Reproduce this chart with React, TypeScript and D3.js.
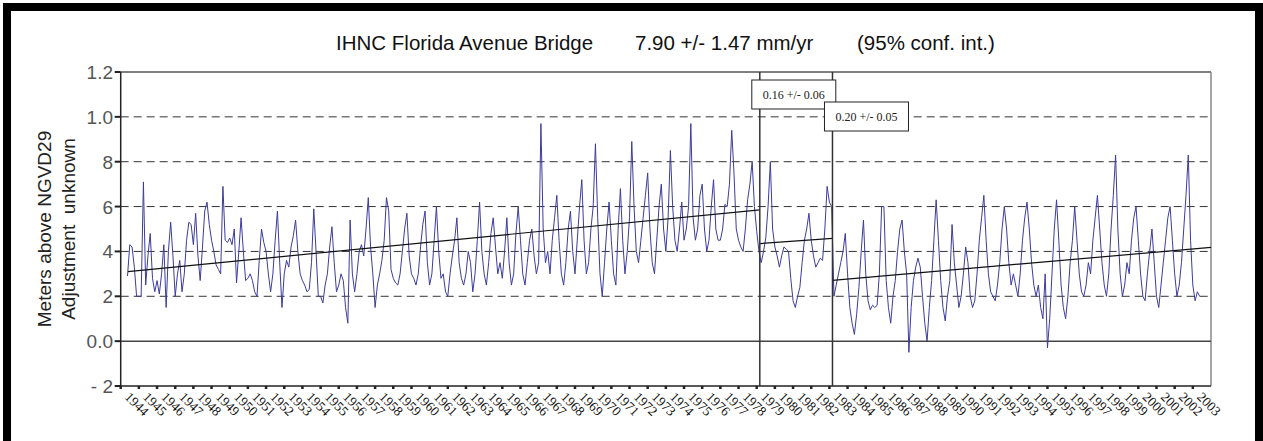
import React from 'react';
import { scaleLinear, line, range } from 'd3';

// chart text
const chartTitle = ['IHNC Florida Avenue Bridge', '7.90 +/- 1.47 mm/yr', '(95% conf. int.)'];
const yTitle = ['Meters above NGVD29', 'Adjustment  unknown'];
const yTickValues = [1.2, 1.0, 0.8, 0.6, 0.4, 0.2, 0.0, -0.2];
const yTickLabels = ['1.2', '1.0', '8', '6', '4', '2', '0.0', '- 2'];
const dashedLevels = [1.0, 0.8, 0.6, 0.4, 0.2];

const firstYear = 1944;
const lastYear = 2003;
const samplesPerYear = 8;

// water level, 8 readings per year (m)
const waterLevel: (number | null)[] = [
    null, null, null, 0.29, 0.43, 0.42, 0.33, 0.2, // 1944
    0.2, 0.2, 0.71, 0.25, 0.38, 0.48, 0.28, 0.22, // 1945
    0.27, 0.21, 0.3, 0.43, 0.15, 0.4, 0.53, 0.38, // 1946
    0.2, 0.3, 0.36, 0.22, 0.3, 0.45, 0.53, 0.52, // 1947
    0.43, 0.57, 0.38, 0.27, 0.42, 0.58, 0.62, 0.52, // 1948
    0.45, 0.4, 0.34, 0.32, 0.3, 0.69, 0.45, 0.44, // 1949
    0.46, 0.43, 0.5, 0.26, 0.4, 0.55, 0.4, 0.27, // 1950
    0.28, 0.3, 0.27, 0.22, 0.2, 0.36, 0.5, 0.44, // 1951
    0.4, 0.3, 0.22, 0.3, 0.45, 0.58, 0.35, 0.15, // 1952
    0.3, 0.36, 0.33, 0.42, 0.47, 0.54, 0.4, 0.3, // 1953
    0.27, 0.25, 0.22, 0.23, 0.35, 0.59, 0.4, 0.2, // 1954
    0.2, 0.17, 0.25, 0.3, 0.42, 0.51, 0.35, 0.22, // 1955
    0.25, 0.3, 0.27, 0.15, 0.08, 0.54, 0.3, 0.22, // 1956
    0.3, 0.4, 0.43, 0.38, 0.5, 0.64, 0.42, 0.3, // 1957
    0.15, 0.25, 0.3, 0.36, 0.45, 0.64, 0.58, 0.32, // 1958
    0.28, 0.26, 0.25, 0.3, 0.4, 0.5, 0.57, 0.38, // 1959
    0.3, 0.28, 0.25, 0.3, 0.42, 0.52, 0.58, 0.35, // 1960
    0.25, 0.3, 0.45, 0.6, 0.4, 0.28, 0.3, 0.22, // 1961
    0.2, 0.3, 0.38, 0.45, 0.55, 0.35, 0.28, 0.25, // 1962
    0.3, 0.4, 0.35, 0.22, 0.3, 0.45, 0.62, 0.4, // 1963
    0.3, 0.25, 0.35, 0.48, 0.55, 0.42, 0.3, 0.35, // 1964
    0.28, 0.4, 0.55, 0.35, 0.25, 0.3, 0.48, 0.6, // 1965
    0.45, 0.3, 0.25, 0.35, 0.45, 0.5, 0.38, 0.3, // 1966
    0.35, 0.97, 0.5, 0.35, 0.4, 0.3, 0.45, 0.55, // 1967
    0.65, 0.45, 0.3, 0.25, 0.35, 0.5, 0.58, 0.4, // 1968
    0.3, 0.45, 0.6, 0.72, 0.45, 0.3, 0.35, 0.5, // 1969
    0.6, 0.88, 0.55, 0.3, 0.2, 0.35, 0.5, 0.62, // 1970
    0.45, 0.3, 0.25, 0.5, 0.68, 0.45, 0.3, 0.4, // 1971
    0.55, 0.89, 0.6, 0.4, 0.35, 0.45, 0.55, 0.65, // 1972
    0.75, 0.5, 0.35, 0.3, 0.45, 0.6, 0.7, 0.5, // 1973
    0.4, 0.55, 0.85, 0.6, 0.45, 0.4, 0.5, 0.62, // 1974
    0.45, 0.5, 0.6, 0.97, 0.55, 0.45, 0.5, 0.65, // 1975
    0.7, 0.5, 0.4, 0.45, 0.6, 0.72, 0.5, 0.45, // 1976
    0.45, 0.5, 0.61, 0.6, 0.7, 0.94, 0.75, 0.5, // 1977
    0.45, 0.42, 0.4, 0.5, 0.63, 0.7, 0.8, 0.6, // 1978
    0.49, 0.4, 0.35, 0.4, 0.46, 0.6, 0.8, 0.5, // 1979
    0.42, 0.38, 0.33, 0.38, 0.42, 0.41, 0.4, 0.28, // 1980
    0.18, 0.15, 0.2, 0.24, 0.35, 0.45, 0.5, 0.57, // 1981
    0.45, 0.38, 0.33, 0.35, 0.37, 0.36, 0.5, 0.69, // 1982
    0.62, 0.6, 0.2, 0.25, 0.3, 0.35, 0.4, 0.48, // 1983
    0.3, 0.15, 0.08, 0.03, 0.12, 0.24, 0.4, 0.54, // 1984
    0.3, 0.18, 0.14, 0.16, 0.15, 0.16, 0.3, 0.6, // 1985
    0.6, 0.27, 0.15, 0.08, 0.2, 0.27, 0.4, 0.5, // 1986
    0.54, 0.4, 0.3, -0.05, 0.15, 0.27, 0.33, 0.37, // 1987
    0.33, 0.2, 0.08, 0.0, 0.15, 0.27, 0.45, 0.63, // 1988
    0.45, 0.27, 0.15, 0.09, 0.2, 0.27, 0.52, 0.35, // 1989
    0.25, 0.15, 0.2, 0.3, 0.42, 0.35, 0.2, 0.15, // 1990
    0.18, 0.3, 0.45, 0.55, 0.65, 0.45, 0.3, 0.22, // 1991
    0.2, 0.18, 0.25, 0.35, 0.5, 0.6, 0.5, 0.35, // 1992
    0.25, 0.3, 0.25, 0.2, 0.3, 0.45, 0.55, 0.62, // 1993
    0.5, 0.35, 0.25, 0.2, 0.25, 0.15, 0.1, 0.3, // 1994
    -0.03, 0.1, 0.3, 0.5, 0.63, 0.45, 0.25, 0.15, // 1995
    0.1, 0.2, 0.35, 0.45, 0.6, 0.45, 0.3, 0.22, // 1996
    0.2, 0.25, 0.35, 0.3, 0.45, 0.55, 0.65, 0.5, // 1997
    0.35, 0.25, 0.2, 0.3, 0.5, 0.65, 0.83, 0.5, // 1998
    0.3, 0.2, 0.25, 0.35, 0.3, 0.45, 0.55, 0.6, // 1999
    0.45, 0.3, 0.2, 0.18, 0.3, 0.4, 0.5, 0.35, // 2000
    0.2, 0.15, 0.25, 0.35, 0.45, 0.55, 0.6, 0.45, // 2001
    0.3, 0.2, 0.25, 0.35, 0.5, 0.65, 0.83, 0.45, // 2002
    0.25, 0.18, 0.22, 0.2, null, null, null, null, // 2003
];

// linear fits, one per segment
const trendFrom = [1944.4, 1979.17, 1983.17];
const trendTo = [1979.17, 1983.17, 2004];
const trendFromLevel = [0.31, 0.435, 0.271];
const trendToLevel = [0.585, 0.458, 0.418];

// datum changes
const breakYears = [1979.17, 1983.17];
const breakLabels = ['0.16 +/- 0.06', '0.20 +/- 0.05'];

const App = () => {
    const svgWidth = 1263;
    const svgHeight = 441;
    const plot = { left: 120.7, right: 1211, top: 72, bottom: 386 };

    const x = scaleLinear().domain([firstYear, lastYear + 1]).range([plot.left, plot.right]);
    const y = scaleLinear().domain([-0.2, 1.2]).range([plot.bottom, plot.top]);

    const points = waterLevel.map((v, i) => ({ t: firstYear + i / samplesPerYear, v }));
    const levelLine = line<{ t: number, v: number | null }>()
        .defined(d => d.v != null)
        .x(d => x(d.t))
        .y(d => y(d.v as number));

    const years = range(firstYear, lastYear + 1);
    const sans = '"Liberation Sans", Arial, sans-serif';
    const serif = '"Liberation Serif", "Times New Roman", serif';

    return (
        <div style={{ position: 'absolute', left: 0, top: 0 }}>
            <svg width={svgWidth} height={svgHeight} style={{ display: 'block', background: '#fff' }}>
                <rect x={7} y={7} width={1252} height={520} fill='#fff' stroke='#000' strokeWidth={8} />

                {/* title */}
                <g fontFamily={sans} fontSize={20.5} fill='#111'>
                    <text x={336} y={50}>{chartTitle[0]}</text>
                    <text x={635} y={50}>{chartTitle[1]}</text>
                    <text x={857} y={50}>{chartTitle[2]}</text>
                </g>

                {/* y title */}
                <g fontFamily={sans} fontSize={19} fill='#222' textAnchor='middle'>
                    <text transform={`translate(51,${(plot.top + plot.bottom) / 2}) rotate(-90)`}>{yTitle[0]}</text>
                    <text transform={`translate(75,${(plot.top + plot.bottom) / 2}) rotate(-90)`} style={{ whiteSpace: 'pre' }}>{yTitle[1]}</text>
                </g>

                {/* frame of plot */}
                <line x1={plot.left} x2={plot.right} y1={y(1.2)} y2={y(1.2)} stroke='#555' strokeWidth={1.5} />
                <line x1={plot.right} x2={plot.right} y1={plot.top} y2={plot.bottom} stroke='#888' strokeWidth={1.5} />
                {dashedLevels.map(v => (
                    <line key={v} x1={plot.left} x2={plot.right} y1={y(v)} y2={y(v)} stroke='#333' strokeWidth={1} strokeDasharray='8,5' />
                ))}
                <line x1={plot.left} x2={plot.right} y1={y(0)} y2={y(0)} stroke='#444' strokeWidth={1.5} />

                {/* y axis */}
                <line x1={plot.left} x2={plot.left} y1={plot.top} y2={plot.bottom} stroke='#222' strokeWidth={1.5} />
                {yTickValues.map((v, i) => (
                    <g key={v}>
                        <line x1={plot.left - 6} x2={plot.left} y1={y(v)} y2={y(v)} stroke='#222' strokeWidth={2} />
                        <text x={113} y={y(v) + 7} textAnchor='end' fontFamily={sans} fontSize={19} fill='#555'>{yTickLabels[i]}</text>
                    </g>
                ))}

                {/* x axis */}
                <line x1={plot.left} x2={plot.right} y1={plot.bottom} y2={plot.bottom} stroke='#222' strokeWidth={1.5} />
                {years.map(yr => (
                    <line key={'t' + yr} x1={x(yr)} x2={x(yr)} y1={plot.bottom} y2={plot.bottom + 3} stroke='#222' strokeWidth={2.5} />
                ))}
                {years.map(yr => (
                    <text key={'l' + yr} transform={`translate(${x(yr + 0.5) + 1},${plot.bottom + 5}) rotate(45)`}
                        dy='0.7em' fontFamily={serif} fontSize={13.5} fill='#111'>{yr}</text>
                ))}

                {/* water level */}
                <path d={levelLine(points) ?? ''} fill='none' stroke='#3c3c9e' strokeWidth={1} strokeLinejoin='round' />

                {/* trends */}
                {trendFrom.map((t, i) => (
                    <line key={'tr' + i} x1={x(t)} x2={x(trendTo[i])} y1={y(trendFromLevel[i])} y2={y(trendToLevel[i])} stroke='#111' strokeWidth={1.2} />
                ))}

                {/* breaks and labels */}
                {breakYears.map((t, i) => (
                    <line key={'b' + i} x1={x(t)} x2={x(t)} y1={plot.top} y2={plot.bottom} stroke='#333' strokeWidth={1.5} />
                ))}
                {breakYears.map((t, i) => {
                    const bx = x(t) - 8;
                    const by = i == 0 ? 80 : 102;
                    return (
                        <g key={'lb' + i}>
                            <rect x={bx} y={by} width={84} height={29} fill='#fff' stroke='#222' strokeWidth={1} />
                            <text x={bx + 42} y={by + 19} textAnchor='middle' fontFamily={serif} fontSize={12} fill='#222'>{breakLabels[i]}</text>
                        </g>
                    );
                })}
            </svg>
        </div>
    );
}

export default App;
